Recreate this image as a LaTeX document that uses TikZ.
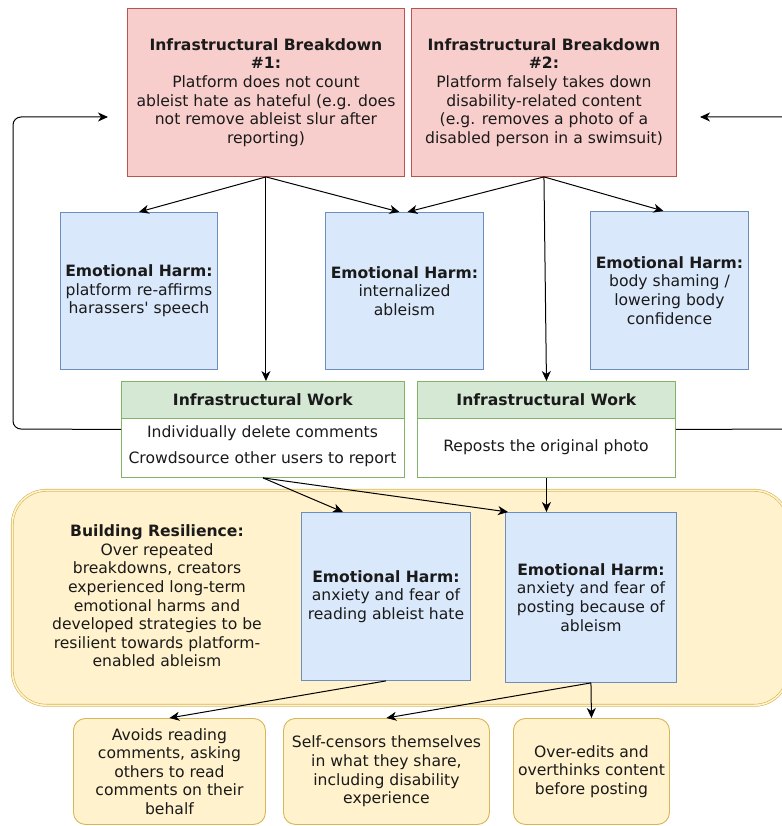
\documentclass[tikz,border=0pt]{standalone}
\usepackage{fontspec}
\setmainfont{DejaVu Sans}
\usetikzlibrary{arrows.meta}
\definecolor{rfill}{HTML}{F8CECC}\definecolor{rline}{HTML}{B85450}
\definecolor{bfill}{HTML}{DAE8FC}\definecolor{bline}{HTML}{6C8EBF}
\definecolor{gfill}{HTML}{D5E8D4}\definecolor{gline}{HTML}{82B366}
\definecolor{yfill}{HTML}{FFF2CC}\definecolor{yline}{HTML}{D6B656}
\definecolor{txt}{HTML}{1A1A1A}
\newcommand\fsz{\fontsize{15.6}{18.6}\selectfont}
\tikzset{
  base/.style={draw, line width=0.9pt, inner sep=0pt, align=center, anchor=north west, font=\fsz, text=txt},
  redbox/.style={base, fill=rfill, draw=rline},
  bluebox/.style={base, fill=bfill, draw=bline},
  greenbox/.style={base, fill=gfill, draw=gline},
  whitebox/.style={base, fill=white, draw=gline},
  yelbox/.style={base, fill=yfill, draw=yline, rounded corners=12pt},
  plain/.style={inner sep=0pt, align=center, font=\fsz, text=txt},
  conn/.style={draw=black, line width=1pt, -{Stealth[length=10pt,width=9pt,inset=3pt]}},
  line/.style={draw=black, line width=1pt}
}
\begin{document}
\begin{tikzpicture}[x=1pt,y=-1pt]
\useasboundingbox (0,0) rectangle (781,826);
% container
\node[base, fill=yfill, draw=yline, rounded corners=34pt, double=yfill, double distance=1.6pt, line width=0.6pt, minimum width=776pt, minimum height=215pt] (cont) at (12,490) {};
% breakdowns
\node[redbox, minimum width=277pt, minimum height=168pt] (b1) at (127,8)
 {\textbf{Infrastructural Breakdown}\\\textbf{\#1:}\\Platform does not count\\ableist hate as hateful (e.g. does\\not remove ableist slur after\\reporting)};
\node[redbox, minimum width=265pt, minimum height=168pt] (b2) at (411,8)
 {\textbf{Infrastructural Breakdown}\\\textbf{\#2:}\\Platform falsely takes down\\disability-related content\\(e.g. removes a photo of a\\disabled person in a swimsuit)};
% emotional harms row
\node[bluebox, minimum width=157pt, minimum height=157pt] (eh1) at (60,212)
 {\textbf{Emotional Harm:}\\platform re-affirms\\harassers\textquotesingle{} speech};
\node[bluebox, minimum width=158pt, minimum height=157pt] (eh2) at (325,212)
 {\textbf{Emotional Harm:}\\internalized\\ableism};
\node[bluebox, minimum width=158pt, minimum height=158pt] (eh3) at (590,211)
 {\textbf{Emotional Harm:}\\body shaming /\\lowering body\\confidence};
% infrastructural work
\node[whitebox, minimum width=283pt, minimum height=96pt] (iw1) at (121,381) {};
\node[greenbox, minimum width=283pt, minimum height=37pt] (iw1h) at (121,381) {\textbf{Infrastructural Work}};
\node[plain] (iw1b) at (262.5,446) {Individually delete comments\\[7.5pt]Crowdsource other users to report};
\node[whitebox, minimum width=258pt, minimum height=96pt] (iw2) at (417,381) {};
\node[greenbox, minimum width=258pt, minimum height=37pt] (iw2h) at (417,381) {\textbf{Infrastructural Work}};
\node[plain] (iw2b) at (546,447) {Reposts the original photo};
% resilience
\node[plain] (brt) at (157,596)
 {\textbf{Building Resilience:}\\Over repeated\\breakdowns, creators\\experienced long-term\\emotional harms and\\developed strategies to be\\resilient towards platform-\\enabled ableism};
\node[bluebox, minimum width=169pt, minimum height=168pt] (eh4) at (301,512)
 {\textbf{Emotional Harm:}\\anxiety and fear of\\reading ableist hate};
\node[bluebox, minimum width=171pt, minimum height=170pt] (eh5) at (505,512)
 {\textbf{Emotional Harm:}\\anxiety and fear of\\posting because of\\ableism};
% outcomes
\node[yelbox, minimum width=192pt, minimum height=106pt] (c1) at (73,718)
 {Avoids reading\\comments, asking\\others to read\\comments on their\\behalf};
\node[yelbox, minimum width=206pt, minimum height=106pt] (c2) at (283,718)
 {Self-censors themselves\\in what they share,\\including disability\\experience};
\node[yelbox, minimum width=156pt, minimum height=106pt] (c3) at (513,718)
 {Over-edits and\\overthinks content\\before posting};
% loop coordinates
\coordinate (lt) at (108,117);
\coordinate (rt) at (700,117);
% connectors
\draw[conn] (b1.south) -- (eh1.north);
\draw[conn] (b1.south) -- (b1.south |- iw1.north);
\draw[conn] (b1.south) -- ([xshift=-5pt]eh2.north);
\draw[conn] (b2.south) -- ([xshift=3pt]eh2.north);
\draw[conn] (b2.south) -- (iw2.north);
\draw[conn] (b2.south) -- ([xshift=-6pt]eh3.north);
\draw[conn] (iw1.south) -- ([xshift=-43pt]eh4.north);
\draw[conn] (iw1.south) -- ([xshift=3pt]eh5.north west);
\draw[conn] (iw2.south) -- (iw2.south |- eh5.north);
\draw[conn] (eh4.south) -- (c1.north);
\draw[conn] (eh5.south) -- (c2.north);
\draw[conn] (eh5.south) -- (c3.north);
\draw[conn, rounded corners=8pt] (iw1.west) -- (13,429) -- (13,117) -- (lt);
\draw[conn, rounded corners=8pt] (iw2.east) -- (800,429) -- (800,117) -- (rt);
\end{tikzpicture}
\end{document}
